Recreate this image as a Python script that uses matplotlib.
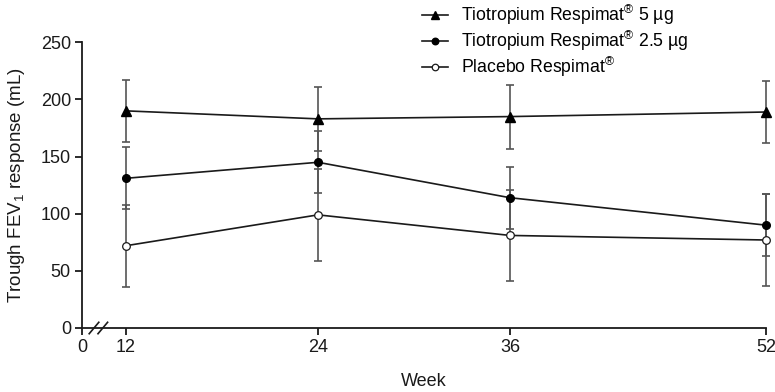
import numpy as np
import matplotlib.pyplot as plt

plt.rcParams['font.family'] = ['Liberation Sans', 'DejaVu Sans']
plt.rcParams['mathtext.fontset'] = 'custom'
plt.rcParams['mathtext.rm'] = 'Liberation Sans'
plt.rcParams['mathtext.it'] = 'Liberation Sans'

weeks = [12, 24, 36, 52]

tio5 = [190, 183, 185, 189]
tio5_err = [27, 28, 28, 27]

tio25 = [131, 145, 114, 90]
tio25_err = [27, 27, 27, 27]

placebo = [72, 99, 81, 77]
placebo_err = [36, 40, 40, 40]

labels = ['Tiotropium Respimat$^{®}$ 5 µg',
          'Tiotropium Respimat$^{®}$ 2.5 µg',
          'Placebo Respimat$^{®}$']

fig = plt.figure(figsize=(7.75, 3.92), dpi=100)
ax = fig.add_axes([82 / 775, 1 - 328 / 392, (766 - 82) / 775, (328 - 42.3) / 392])

line_col = '#1a1a1a'
err_col = '#555555'

# error bars first, then lines with markers on top
for y, e in [(tio5, tio5_err), (tio25, tio25_err), (placebo, placebo_err)]:
    ax.errorbar(weeks, y, yerr=e, fmt='none', ecolor=err_col, elinewidth=1.2,
                capsize=3, capthick=1.2, clip_on=False, zorder=2)

h1, = ax.plot(weeks, tio5, color=line_col, lw=1.2, marker='^', ms=6.5,
              mfc='black', mec='black', clip_on=False, zorder=3)
h2, = ax.plot(weeks, tio25, color=line_col, lw=1.2, marker='o', ms=5.5,
              mfc='black', mec='black', clip_on=False, zorder=3)
h3, = ax.plot(weeks, placebo, color=line_col, lw=1.2, marker='o', ms=5.5,
              mfc='white', mec=line_col, mew=0.9, clip_on=False, zorder=3)

x0 = 9.25
ax.set_xlim(x0, 52)
ax.set_ylim(0, 250)
ax.set_xticks([x0] + weeks)
ax.set_xticklabels(['0'] + [str(w) for w in weeks])
ax.set_yticks([0, 50, 100, 150, 200, 250])

for s in ['top', 'right']:
    ax.spines[s].set_visible(False)
for s in ['left', 'bottom']:
    ax.spines[s].set_linewidth(1.3)
    ax.spines[s].set_color('#1a1a1a')
ax.tick_params(direction='out', length=5, width=1.3, labelsize=13,
               colors='#1a1a1a', pad=3)

# axis break marks
for dx in [0, 0.55]:
    xb = 10.0 + dx
    ax.plot([xb - 0.3, xb + 0.3], [-5, 5], color='#1a1a1a', lw=1.2,
            clip_on=False, zorder=4)

ax.set_xlabel('Week', fontsize=13, labelpad=12.5, color='#1a1a1a')
ax.set_ylabel('Trough FEV$_1$ response (mL)', fontsize=13.5, color='#1a1a1a',
              labelpad=10)

fig.legend([h1, h2, h3], labels, loc='upper left',
           bbox_to_anchor=(406 / 775, 1.033), frameon=False, fontsize=12.7,
           handlelength=1.5, handletextpad=0.7, labelspacing=0.12,
           markerscale=0.85)

fig.savefig('out.png', dpi=100)
